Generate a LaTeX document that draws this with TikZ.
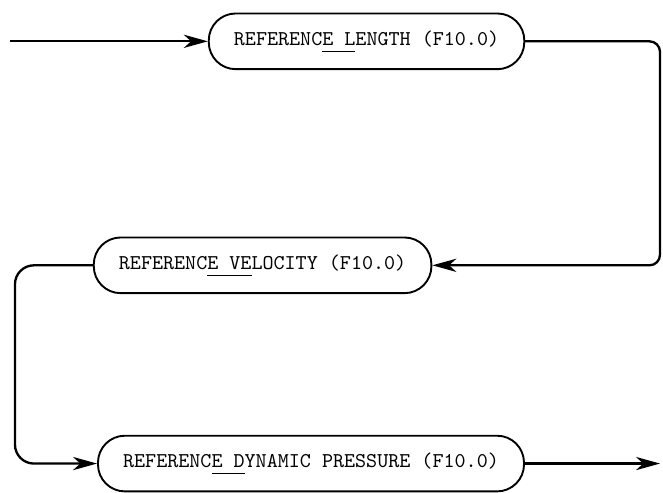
\documentclass[tikz,border=0pt]{standalone}
\usetikzlibrary{arrows.meta}

% underline set a little below the letters, as on a typewriter
\newcommand{\keymark}[1]{\setbox0\hbox{#1}\rlap{\rule[-3.2pt]{\wd0}{0.6pt}}\box0}

\begin{document}
\begin{tikzpicture}[
    box/.style={draw, line width=0.9pt, rounded corners=0.45cm, minimum height=0.93cm,
                inner xsep=0.42cm, font=\ttfamily},
    flow/.style={line width=1.1pt, -{Stealth[length=4mm, width=2.2mm, inset=1.2mm]}}
  ]
  \useasboundingbox (0,0) rectangle (11.07,8.22);

  % the three input cards
  \node[box, anchor=west] (len) at (3.47,7.53) {REFERENC\keymark{E L}ENGTH (F10.0)};
  \node[box, anchor=west] (vel) at (1.55,3.79) {REFERENC\keymark{E VE}LOCITY (F10.0)};
  \node[box, anchor=west] (dyn) at (1.62,0.48) {REFERENC\keymark{E D}YNAMIC PRESSURE (F10.0)};

  % loose ends and turning lines
  \coordinate (in) at (0.17,7.53);
  \coordinate (out) at (11.02,0.48);
  \coordinate (rx) at (11.02,0);
  \coordinate (lx) at (0.25,0);

  \draw[flow] (in) -- (len);
  \draw[flow, rounded corners=5pt] (len.east) -- (len.east -| rx) -- (vel.east -| rx) -- (vel.east);
  \draw[flow, rounded corners=9pt] (vel.west) -- (vel.west -| lx) -- (dyn.west -| lx) -- (dyn.west);
  \draw[flow] (dyn.east) -- (out);
\end{tikzpicture}
\end{document}
